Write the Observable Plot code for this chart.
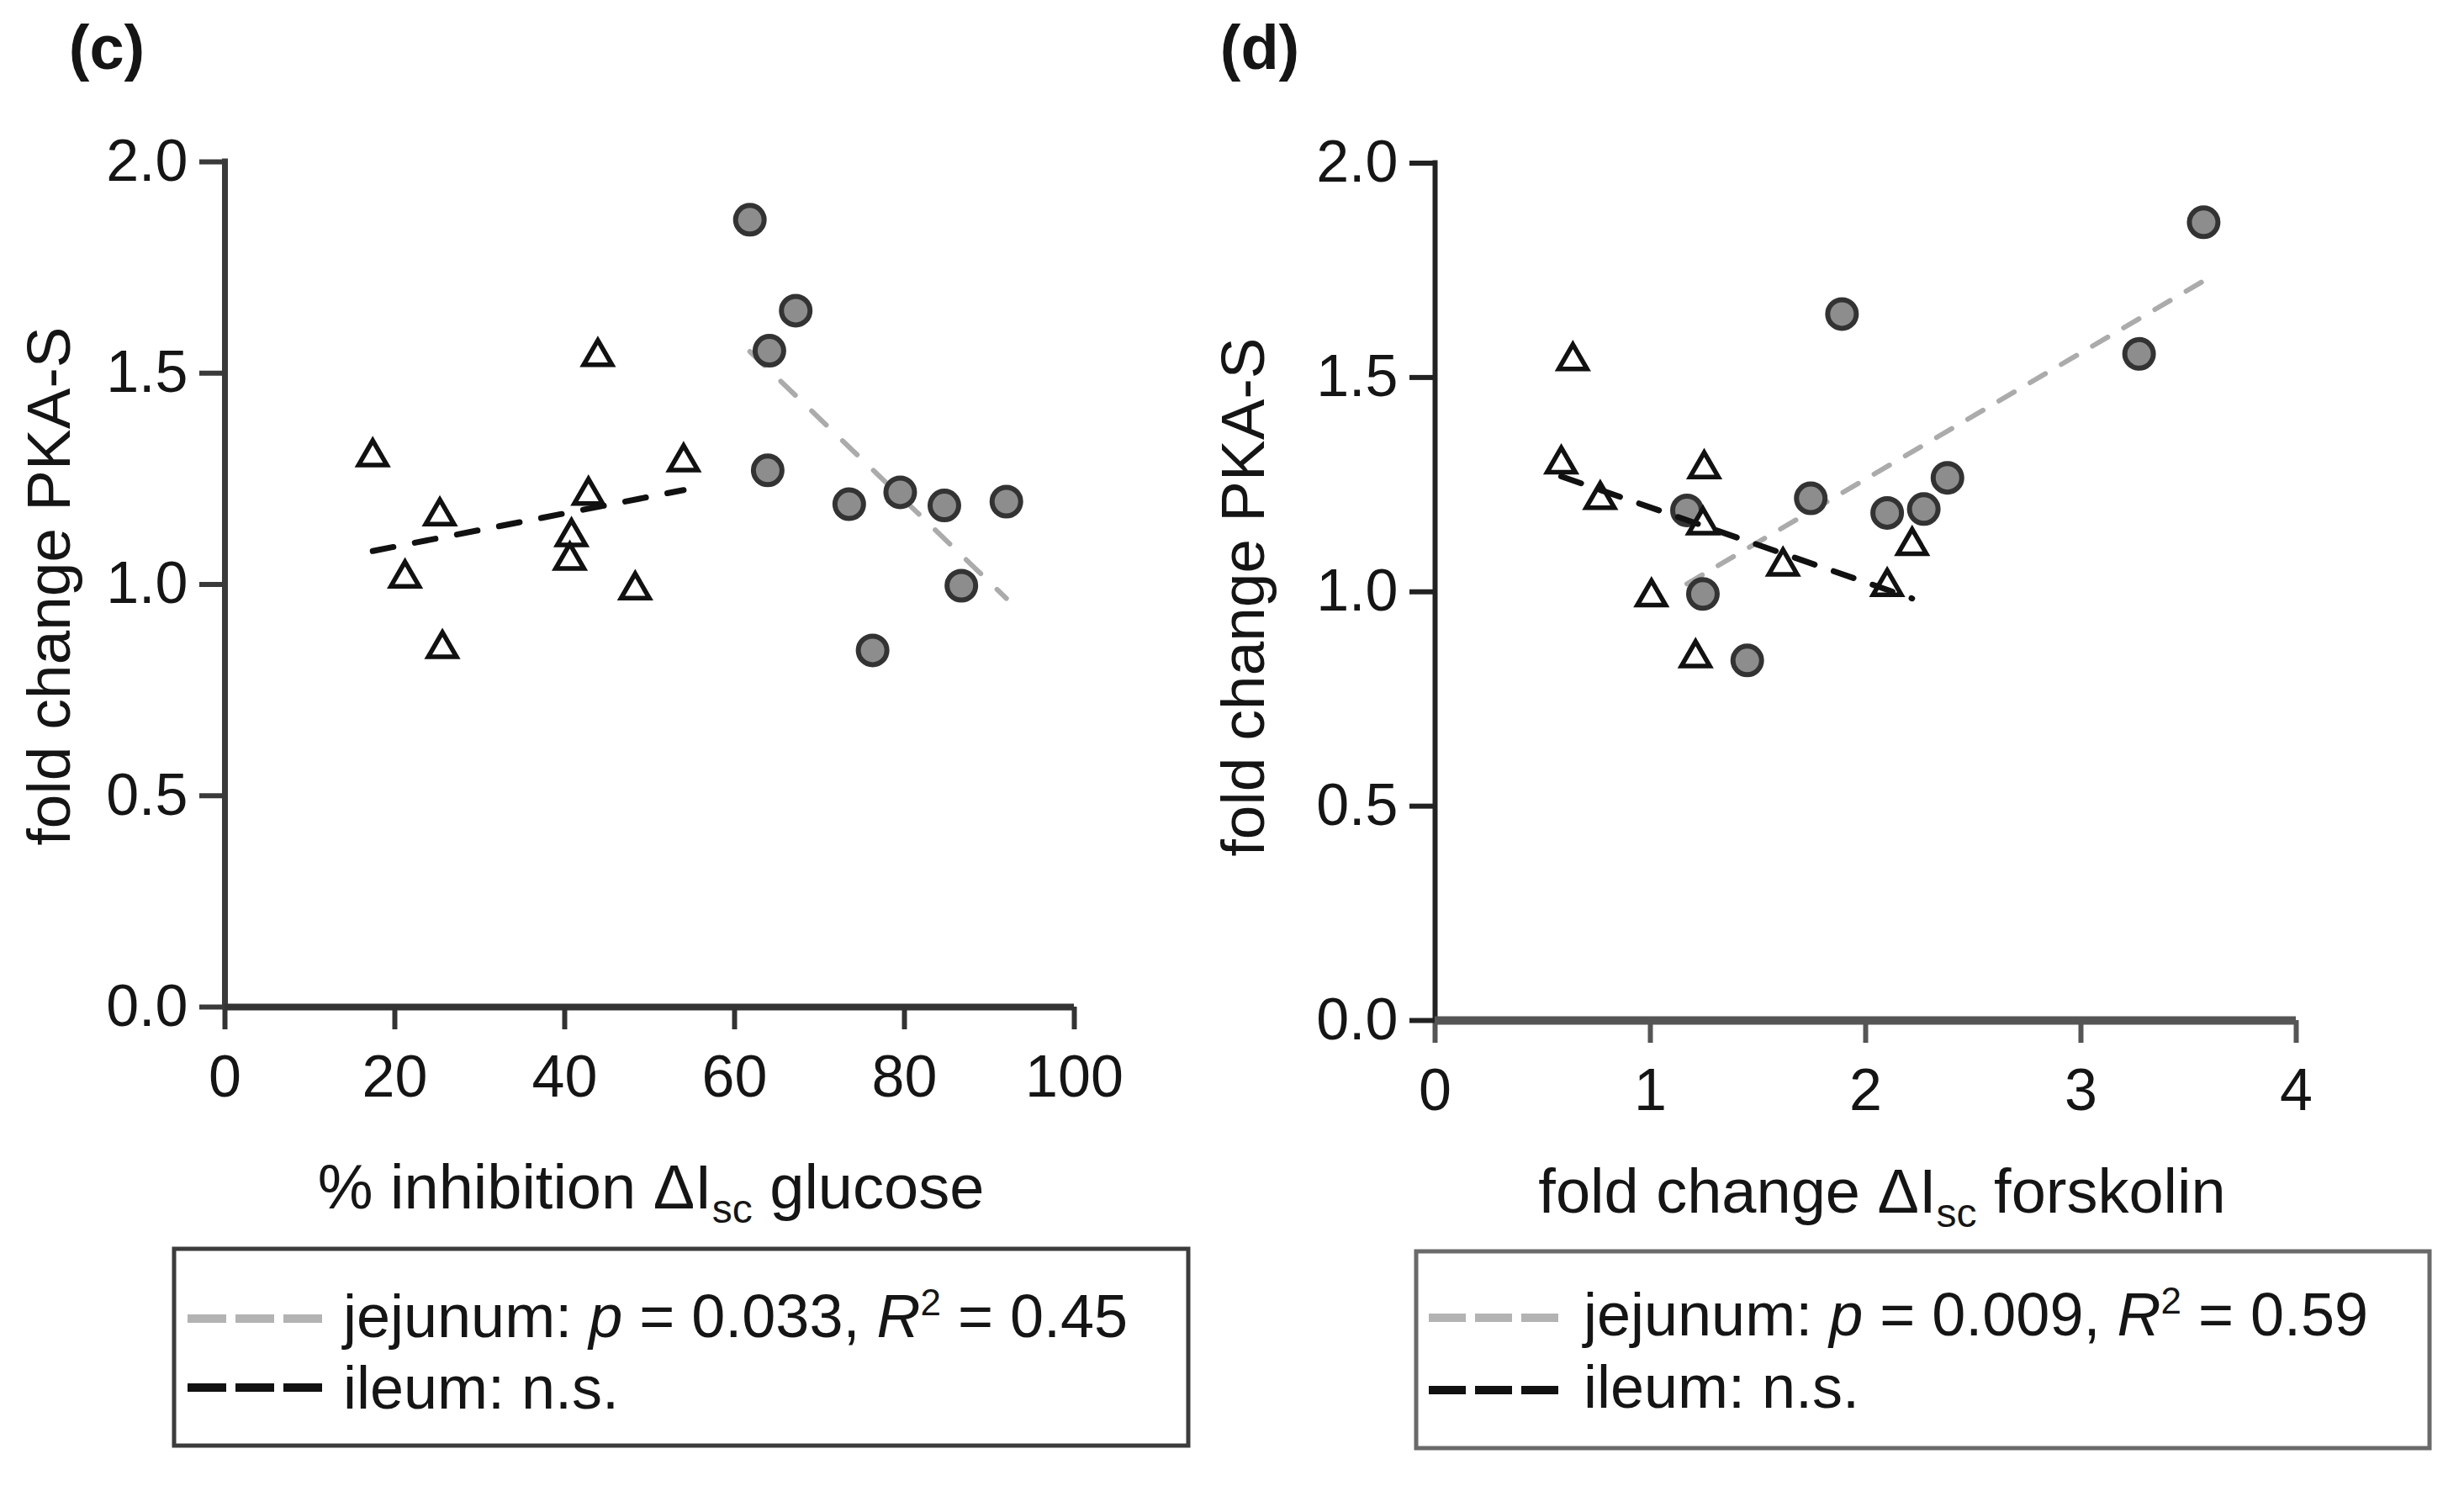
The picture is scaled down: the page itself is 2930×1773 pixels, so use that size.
<!DOCTYPE html>
<html>
<head>
<meta charset="utf-8">
<script src="https://cdn.jsdelivr.net/npm/d3@7"></script>
<script src="https://cdn.jsdelivr.net/npm/@observablehq/plot@0.6"></script>
<style>
  html, body { margin: 0; padding: 0; background: #fff; }
  #root { position: relative; width: 2930px; height: 1773px; background: #fff; overflow: hidden; }
  #root > svg { position: absolute; }
</style>
</head>
<body>
<div id="root"></div>
<script>
// ---------------- data ----------------
// Panel (c): % inhibition ΔIsc glucose vs fold change PKA-S
const cIleumX = [17.4, 21.2, 25.3, 25.6, 43.9, 42.8, 40.8, 40.6, 48.3, 54.0];
const cIleumY = [1.302, 1.015, 1.162, 0.848, 1.539, 1.211, 1.113, 1.057, 0.987, 1.290];
const cJejX   = [61.8, 67.2, 64.1, 63.9, 73.5, 79.5, 84.7, 92.0, 86.7, 76.25];
const cJejY   = [1.863, 1.648, 1.553, 1.270, 1.190, 1.218, 1.187, 1.196, 0.997, 0.844];
// Panel (d): fold change ΔIsc forskolin vs fold change PKA-S
const dIleumX = [0.64, 0.586, 1.25, 0.767, 1.244, 1.616, 2.216, 2.10, 1.005, 1.21];
const dIleumY = [1.539, 1.298, 1.287, 1.215, 1.156, 1.06, 1.108, 1.012, 0.988, 0.846];
const dJejX   = [3.57, 1.89, 3.27, 2.38, 1.745, 2.27, 2.10, 1.17, 1.244, 1.45];
const dJejY   = [1.862, 1.648, 1.555, 1.266, 1.218, 1.193, 1.184, 1.19, 0.995, 0.84];

const yTicks = [0, 0.5, 1.0, 1.5, 2.0];
const cXTicks = [0, 20, 40, 60, 80, 100];
const dXTicks = [0, 1, 2, 3, 4];

const cLegend = {jej: "0.033", r2: "0.45"};
const dLegend = {jej: "0.009", r2: "0.59"};

const zip = (xs, ys) => xs.map((x, i) => ({x, y: ys[i]}));

const FONT = '"Liberation Sans", Arial, Helvetica, sans-serif';

function panel(o) {
  const ileum = zip(o.ileumX, o.ileumY);
  const jej = zip(o.jejX, o.jejY);
  return Plot.plot({
    width: o.width, height: o.height,
    marginLeft: o.ml, marginRight: o.mr, marginTop: o.mt, marginBottom: o.mb,
    style: {fontFamily: FONT, fontSize: "70px", color: "#151515", background: "transparent", overflow: "visible"},
    x: {domain: o.xDomain},
    y: {domain: [0, 2]},
    marks: [
      Plot.axisX({ticks: o.xTicks, tickSize: 27, tickPadding: 30, stroke: o.xStroke, strokeWidth: 6, label: null, tickFormat: d => String(d)}),
      Plot.axisY({ticks: yTicks, tickSize: 30, tickPadding: 14, stroke: o.yStroke, strokeWidth: 6, label: null, tickFormat: d => d.toFixed(1)}),
      Plot.ruleX([0], {stroke: o.yStroke, strokeWidth: o.yAxisW, strokeLinecap: "square"}),
      Plot.ruleY([0], {stroke: o.xStroke, strokeWidth: o.xAxisW}),
      Plot.linearRegressionY(jej, {x: "x", y: "y", ci: 0, stroke: "#ababab", strokeWidth: 6, strokeDasharray: o.grayDash}),
      Plot.dot(jej, {x: "x", y: "y", r: 17, fill: "#8d8d8d", stroke: "#333", strokeWidth: 6}),
      Plot.dot(ileum, {x: "x", y: "y", symbol: "triangle", r: 12.5, fill: "#fff", stroke: "#111", strokeWidth: 5.5}),
      Plot.linearRegressionY(ileum, {x: "x", y: "y", ci: 0, stroke: "#111", strokeWidth: 7, strokeDasharray: o.blackDash})
    ]
  });
}

const root = document.getElementById("root");

const pc = panel({
  ileumX: cIleumX, ileumY: cIleumY, jejX: cJejX, jejY: cJejY,
  width: 1400, height: 1400, ml: 267, mr: 123, mt: 192, mb: 203,
  xDomain: [0, 100], xTicks: cXTicks,
  xStroke: "#333", yStroke: "#3a3a3a", xAxisW: 8, yAxisW: 7,
  grayDash: "24,27", blackDash: "25,26"
});
pc.style.left = "0px"; pc.style.top = "0px";
root.appendChild(pc);

const pd = panel({
  ileumX: dIleumX, ileumY: dIleumY, jejX: dJejX, jejY: dJejY,
  width: 1500, height: 1400, ml: 306, mr: 170, mt: 193.5, mb: 187,
  xDomain: [0, 4], xTicks: dXTicks,
  xStroke: "#555", yStroke: "#222", xAxisW: 10, yAxisW: 6,
  grayDash: "21,22", blackDash: "25,24"
});
pd.style.left = "1400px"; pd.style.top = "0px";
root.appendChild(pd);

// ---------------- overlay: panel letters, axis titles, legend boxes ----------------
const ov = d3.select(root).append("svg")
  .attr("width", 2930).attr("height", 1773)
  .style("left", "0px").style("top", "0px")
  .attr("font-family", FONT).attr("fill", "#151515");

function letter(x, txt) {
  ov.append("text").attr("x", x).attr("y", 82).attr("text-anchor", "middle")
    .attr("font-size", 74).attr("font-weight", "bold").text(txt);
}
letter(127, "(c)");
letter(1498, "(d)");

function yTitle(x, y) {
  ov.append("text").attr("transform", `translate(${x},${y}) rotate(-90)`)
    .attr("text-anchor", "middle").attr("font-size", 73).text("fold change PKA-S");
}
yTitle(83, 697);
yTitle(1503, 710);

function xTitle(x, y, pre, post) {
  const t = ov.append("text").attr("x", x).attr("y", y).attr("text-anchor", "middle").attr("font-size", 74);
  t.append("tspan").text(pre + "\u0394I");
  t.append("tspan").attr("font-size", 48).attr("dy", 17).text("sc");
  t.append("tspan").attr("dy", -17).text(" " + post);
}
xTitle(774, 1437, "% inhibition ", "glucose");
xTitle(2238, 1442, "fold change ", "forskolin");

function legend(o, vals) {
  ov.append("rect").attr("x", o.x).attr("y", o.y).attr("width", o.w).attr("height", o.h)
    .attr("fill", "none").attr("stroke", o.border).attr("stroke-width", 5);
  ov.append("line").attr("x1", o.sx).attr("x2", o.sx + o.sl).attr("y1", o.y1).attr("y2", o.y1)
    .attr("stroke", "#b3b3b3").attr("stroke-width", 10).attr("stroke-dasharray", o.dash);
  ov.append("line").attr("x1", o.sx).attr("x2", o.sx + o.sl).attr("y1", o.y2).attr("y2", o.y2)
    .attr("stroke", "#111").attr("stroke-width", 10).attr("stroke-dasharray", o.dash);
  const t1 = ov.append("text").attr("x", o.tx).attr("y", o.b1).attr("font-size", 72);
  t1.append("tspan").text("jejunum: ");
  t1.append("tspan").attr("font-style", "italic").text("p");
  t1.append("tspan").text(" = " + vals.jej + ", ");
  t1.append("tspan").attr("font-style", "italic").text("R");
  t1.append("tspan").attr("font-size", 44).attr("dy", -26).text("2");
  t1.append("tspan").attr("dy", 26).text(" = " + vals.r2);
  ov.append("text").attr("x", o.tx).attr("y", o.b2).attr("font-size", 72).text("ileum: n.s.");
}
legend({x: 207, y: 1485, w: 1206, h: 234, border: "#3c3c3c", sx: 223, sl: 160, dash: "46,11",
        y1: 1568, y2: 1650, tx: 408, b1: 1590, b2: 1675}, cLegend);
legend({x: 1684, y: 1488, w: 1205, h: 234, border: "#6a6a6a", sx: 1699, sl: 155, dash: "44,11",
        y1: 1567, y2: 1653, tx: 1883, b1: 1588, b2: 1674}, dLegend);
</script>
</body>
</html>
